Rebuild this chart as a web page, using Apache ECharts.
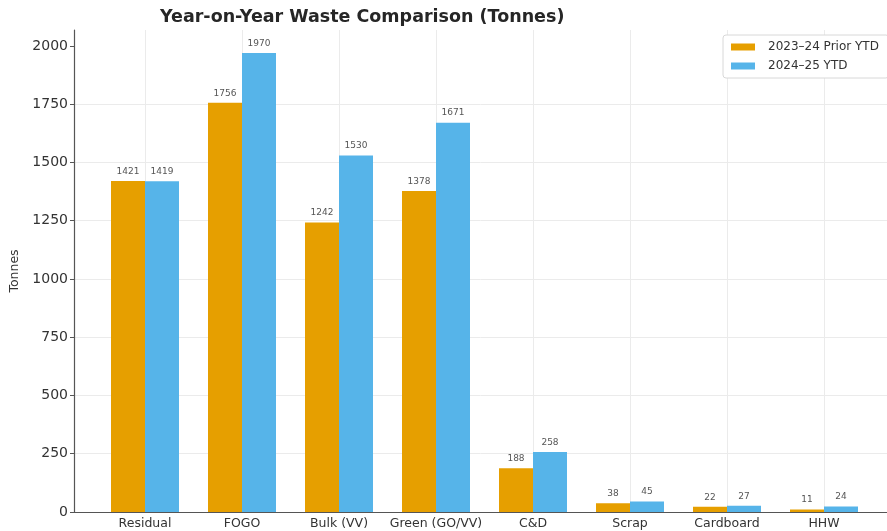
<!DOCTYPE html>
<html>
<head>
<meta charset="utf-8">
<title>Year-on-Year Waste Comparison</title>
<script src="https://cdn.jsdelivr.net/npm/echarts@6/dist/echarts.min.js"></script>
<style>
* { margin: 0; padding: 0; }
body { background: #fff; }
#chart { width: 887px; height: 531px; }
</style>
</head>
<body>
<div id="chart"></div>
<script>
// categories and values
var categories = ['Residual', 'FOGO', 'Bulk (VV)', 'Green (GO/VV)', 'C&D', 'Scrap', 'Cardboard', 'HHW'];
var prior = [1421, 1756, 1242, 1378, 188, 38, 22, 11];
var current = [1419, 1970, 1530, 1671, 258, 45, 27, 24];
var seriesNames = ['2023\u201324 Prior YTD', '2024\u201325 YTD'];
var yTicks = [0, 250, 500, 750, 1000, 1250, 1500, 1750, 2000];
var yMax = 2068.5;

function pairs(arr) {
    return arr.map(function (v, i) { return [i, v]; });
}

var chart = echarts.init(document.getElementById('chart'));
var font = 'DejaVu Sans';

var option = {
    animation: false,
    textStyle: { fontFamily: font },
    title: {
        text: 'Year-on-Year Waste Comparison (Tonnes)',
        left: 155,
        top: 3,
        textStyle: { fontSize: 17.5, fontWeight: 'bold', color: '#262626', fontFamily: font }
    },
    legend: {
        left: 723,
        top: 35,
        orient: 'vertical',
        icon: 'rect',
        itemWidth: 24,
        itemHeight: 7,
        itemGap: 7,
        padding: [6, 10, 6, 8],
        borderColor: '#d8d8d8',
        borderWidth: 1,
        borderRadius: 3,
        backgroundColor: '#fff',
        textStyle: { fontSize: 12, color: '#333', fontFamily: font, padding: [0, 0, 0, 8] },
        data: seriesNames
    },
    grid: [
        // grid 0: bars and vertical grid lines, one unit per category
        { left: 96.5, top: 30, bottom: 19, right: 14.5, containLabel: false },
        // grid 1: visible y axis and spines
        { left: 74, top: 30, bottom: 19, right: 0, containLabel: false }
    ],
    xAxis: [
        {
            gridIndex: 0,
            type: 'value',
            min: -0.5,
            max: categories.length - 0.5,
            minInterval: 1,
            maxInterval: 1,
            splitNumber: categories.length,
            axisLine: { show: false },
            axisTick: { show: false },
            axisLabel: {
                fontSize: 12.5,
                color: '#333',
                margin: 5,
                showMinLabel: false,
                showMaxLabel: false,
                formatter: function (v) { return categories[v] || ''; }
            },
            splitLine: { show: true, showMinLine: false, showMaxLine: false, lineStyle: { color: '#ebebeb', width: 1 } }
        },
        {
            gridIndex: 1,
            type: 'value',
            min: 0,
            max: 1,
            axisLine: { show: true, lineStyle: { color: '#555', width: 1.2 } },
            axisTick: { show: false },
            axisLabel: { show: false },
            splitLine: { show: false }
        }
    ],
    yAxis: [
        {
            gridIndex: 0,
            type: 'value',
            min: 0,
            max: yMax,
            show: false,
            splitLine: { show: false }
        },
        {
            gridIndex: 1,
            type: 'value',
            min: 0,
            max: yMax,
            name: 'Tonnes',
            nameLocation: 'middle',
            nameGap: 51,
            nameTextStyle: { fontSize: 12.5, color: '#333' },
            axisLine: { show: true, lineStyle: { color: '#555', width: 1.2 } },
            axisTick: { show: true, length: 4, customValues: yTicks, lineStyle: { color: '#555' } },
            axisLabel: {
                fontSize: 14,
                color: '#333',
                margin: 6,
                customValues: yTicks,
                formatter: function (v) { return String(v); }
            },
            splitLine: { show: true, showMaxLine: false, lineStyle: { color: '#ebebeb', width: 1 } }
        }
    ],
    series: [
        {
            name: seriesNames[0],
            type: 'bar',
            xAxisIndex: 0,
            yAxisIndex: 0,
            barWidth: 34,
            barGap: '0%',
            itemStyle: { color: '#E69F00' },
            label: { show: true, position: 'top', distance: 5, fontSize: 9, color: '#555' },
            data: pairs(prior)
        },
        {
            name: seriesNames[1],
            type: 'bar',
            xAxisIndex: 0,
            yAxisIndex: 0,
            barWidth: 34,
            barGap: '0%',
            itemStyle: { color: '#56B4E9' },
            label: { show: true, position: 'top', distance: 5, fontSize: 9, color: '#555' },
            data: pairs(current)
        }
    ]
};

chart.setOption(option);
</script>
</body>
</html>
